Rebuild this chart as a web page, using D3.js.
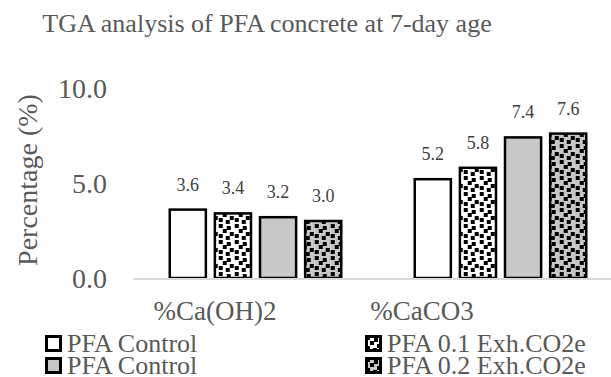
<!DOCTYPE html>
<html>
<head>
<meta charset="utf-8">
<script src="https://cdn.jsdelivr.net/npm/d3@7"></script>
<style>
  html, body { margin: 0; padding: 0; background: #fff; }
  svg { display: block; }
</style>
</head>
<body>
<svg id="chart" width="611" height="377"></svg>
<script>
// Categories and series
const categories = ["%Ca(OH)2", "%CaCO3"];
const seriesNames = ["PFA Control", "PFA 0.1 Exh.CO2e", "PFA Control", "PFA 0.2 Exh.CO2e"];
const pfaControlA = [3.6, 5.2];
const pfa01 = [3.4, 5.8];
const pfaControlB = [3.2, 7.4];
const pfa02 = [3.0, 7.6];
const yTicks = [0, 5, 10];
const titleText = "TGA analysis of PFA concrete at 7-day age";
const yTitle = "Percentage (%)";

const seriesValues = [pfaControlA, pfa01, pfaControlB, pfa02];
const fills = ["#ffffff", "url(#confettiWhite)", "#c8c8c8", "url(#confettiGray)"];
const textColor = "#595959";
const serif = '"Liberation Serif", "Times New Roman", serif';

const svg = d3.select("#chart");

// Confetti hatch: scattered 4px squares on a 16px tile
const confettiSquares = [[1, 0], [9, 2], [5, 5], [12, 8], [1, 10], [8, 12]];
const defs = svg.append("defs");
function confetti(id, bg) {
  const p = defs.append("pattern")
    .attr("id", id).attr("patternUnits", "userSpaceOnUse")
    .attr("width", 16).attr("height", 16);
  p.append("rect").attr("width", 16).attr("height", 16).attr("fill", bg);
  p.selectAll("rect.sq").data(confettiSquares).join("rect")
    .attr("class", "sq")
    .attr("x", d => d[0]).attr("y", d => d[1])
    .attr("width", 4).attr("height", 4).attr("fill", "#000");
}
confetti("confettiWhite", "#ffffff");
confetti("confettiGray", "#c8c8c8");

// Scales
const y = d3.scaleLinear().domain([0, 10]).range([278, 88]);
const x0 = d3.scaleBand().domain(categories).range([133, 623])
  .paddingInner(0.3).paddingOuter(0.15);
const x1 = d3.scaleBand().domain(d3.range(seriesValues.length))
  .range([0, x0.bandwidth()]).paddingInner(0.2).paddingOuter(0);
const xLabel = d3.scalePoint().domain(categories).range([215, 422]);

// Title
svg.append("text")
  .attr("x", 267).attr("y", 32)
  .attr("text-anchor", "middle")
  .style("font-family", serif).style("font-size", "26px")
  .attr("fill", textColor)
  .text(titleText);

// Y axis tick labels
const yAxis = d3.axisLeft(y).tickValues(yTicks).tickFormat(d3.format(".1f")).tickSize(0).tickPadding(0);
const yg = svg.append("g").attr("transform", "translate(107,0)").call(yAxis);
yg.select(".domain").remove();
yg.selectAll("text")
  .style("font-family", serif).style("font-size", "28px")
  .attr("fill", textColor).attr("dy", "0.33em");

// Y axis title
svg.append("text")
  .attr("transform", "translate(37,180) rotate(-90)")
  .attr("text-anchor", "middle")
  .style("font-family", serif).style("font-size", "28px")
  .attr("fill", textColor)
  .text(yTitle);

// Bars
const groups = svg.append("g").selectAll("g")
  .data(categories).join("g")
  .attr("transform", d => `translate(${x0(d)},0)`);

groups.selectAll("rect")
  .data((c, ci) => seriesValues.map((vals, si) => ({ si, v: vals[ci] })))
  .join("rect")
  .attr("x", d => x1(d.si))
  .attr("y", d => y(d.v))
  .attr("width", x1.bandwidth())
  .attr("height", d => y(0) - y(d.v))
  .attr("fill", d => fills[d.si])
  .attr("stroke", "#000")
  .attr("stroke-width", 2.5);

groups.selectAll("text.val")
  .data((c, ci) => seriesValues.map((vals, si) => ({ si, v: vals[ci] })))
  .join("text")
  .attr("class", "val")
  .attr("x", d => x1(d.si) + x1.bandwidth() / 2)
  .attr("y", d => y(d.v) - 19)
  .attr("text-anchor", "middle")
  .style("font-family", serif).style("font-size", "18px")
  .attr("fill", "#404040")
  .text(d => d.v.toFixed(1));

// Baseline
svg.append("line")
  .attr("x1", 133).attr("x2", 611)
  .attr("y1", y(0) + 1).attr("y2", y(0) + 1)
  .attr("stroke", "#d9d9d9").attr("stroke-width", 2);

// Category labels
svg.append("g").selectAll("text")
  .data(categories).join("text")
  .attr("x", d => xLabel(d))
  .attr("y", 320)
  .attr("text-anchor", "middle")
  .style("font-family", serif).style("font-size", "27px")
  .attr("fill", textColor)
  .text(d => d);

// Legend (two columns, two rows)
const legendPos = [[45, 352], [365, 352], [45, 374], [365, 374]];
const lg = svg.append("g").selectAll("g")
  .data(d3.range(seriesNames.length)).join("g")
  .attr("transform", (d, i) => `translate(${legendPos[i][0]},${legendPos[i][1]})`);
lg.append("rect")
  .attr("x", 1.5).attr("y", -15.5)
  .attr("width", 14).attr("height", 14)
  .attr("fill", d => fills[d])
  .attr("stroke", "#000").attr("stroke-width", 3);
lg.append("text")
  .attr("x", 22).attr("y", 0)
  .style("font-family", serif).style("font-size", "26px")
  .attr("fill", textColor)
  .text(d => seriesNames[d]);
</script>
</body>
</html>
